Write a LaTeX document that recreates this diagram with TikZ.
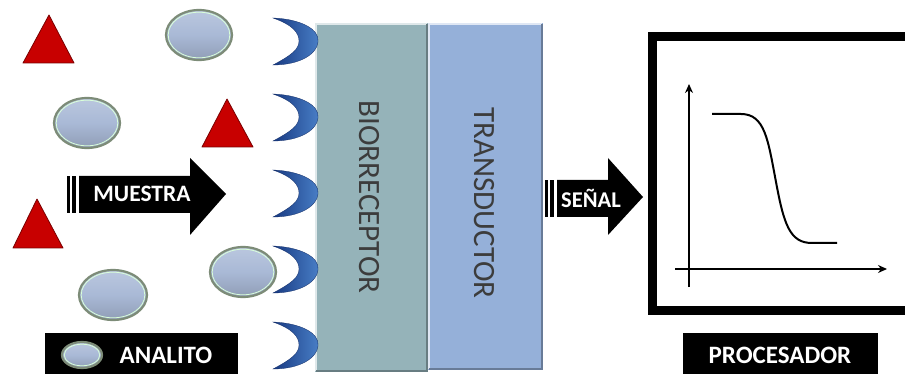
\documentclass[tikz,border=0pt]{standalone}
\usepackage{fontspec}
\setmainfont{Carlito}
\usetikzlibrary{arrows.meta}
\definecolor{tri}{HTML}{C80000}
\definecolor{tridark}{HTML}{7A0000}
\definecolor{ellfill}{HTML}{A9B9D6}
\definecolor{ellrim}{HTML}{7D8C78}
\definecolor{crdark}{HTML}{183A82}
\definecolor{crlight}{HTML}{4A80C8}
\definecolor{biofill}{HTML}{95B3B9}
\definecolor{transfill}{HTML}{95B0D9}
\definecolor{boxtext}{HTML}{3C3C3C}
\tikzset{
  x=1pt, y=-1pt,
  analyte/.style={top color=ellfill!80!white, bottom color=ellfill!85!black, middle color=ellfill, draw=ellrim, line width=2.2pt},
  analyterim/.style={draw=white!85!green, line width=0.8pt},
  antigen/.style={fill=tri, draw=tridark, line width=0.8pt, line join=round},
  receptor/.style={left color=crdark, right color=crlight, draw=crdark!80!black, line width=0.3pt},
  blackarrow/.style={fill=black},
  whitelabel/.style={text=white, font=\bfseries, inner sep=0pt},
  boxlabel/.style={text=boxtext, rotate=-90, inner sep=0pt},
  axis/.style={line width=1.8pt, -{Stealth[length=9pt,width=8pt]}},
}
\newcommand{\crescent}[1]{%
  \path[receptor] (273,#1-23) .. controls (300,#1-22) and (320,#1-12) .. (318,#1+1)
    .. controls (317,#1+13) and (300,#1+24) .. (273,#1+24)
    .. controls (292,#1+14) and (299,#1+8) .. (299,#1)
    .. controls (299,#1-8) and (293,#1-16) .. cycle;}
\newcommand{\analyteshape}[4]{%
  \path[analyte] (#1,#2) ellipse [x radius=#3, y radius=#4];
  \path[analyterim] (#1,#2) ellipse [x radius=#3-2.2, y radius=#4-2.2];}
\begin{document}
\begin{tikzpicture}
\clip (0,0) rectangle (905,374);
\fill[white] (0,0) rectangle (905,374);

% boxes
\fill[biofill] (315,23) rectangle (428,372);
\draw[white!70!biofill, line width=1.2pt] (316,371) -- (316,24) -- (427,24);
\draw[biofill!70!black, line width=1.2pt] (427,24) -- (427,371) -- (316,371);
\fill[transfill] (428,23) rectangle (543,370);
\draw[white!70!transfill, line width=1.2pt] (429,369) -- (429,24) -- (542,24);
\draw[transfill!70!black, line width=1.2pt] (542,24) -- (542,369) -- (429,369);
\node[boxlabel, font=\fontsize{31}{31}\selectfont] (bio) at (369,197) {BIORRECEPTOR};
\node[boxlabel, font=\fontsize{31}{31}\selectfont] (trans) at (484,203) {TRANSDUCTOR};

% receptors
\crescent{41}
\crescent{117}
\crescent{193}
\crescent{269}
\crescent{345}

% antigens (triangles)
\path[antigen] (49,15) -- (74,63) -- (23,63) -- cycle;
\path[antigen] (227,99) -- (253,147) -- (202,147) -- cycle;
\path[antigen] (37,199) -- (63,248) -- (13,248) -- cycle;

% analytes
\analyteshape{199}{35}{33}{25}
\analyteshape{87}{123}{33}{25}
\analyteshape{243}{272}{33}{25}
\analyteshape{113}{295}{34}{25}

% MUESTRA arrow
\fill[blackarrow] (67,176) rectangle (69.5,213);
\fill[blackarrow] (72,176) rectangle (75.5,213);
\fill[blackarrow] (79,176) -- (190,176) -- (190,158) -- (226,194) -- (190,235) -- (190,213) -- (79,213) -- cycle;
\node[whitelabel, font=\bfseries\fontsize{23.5}{23.5}\selectfont] (muestra) at (142,194) {MUESTRA};

% SENAL arrow
\fill[blackarrow] (545,180) rectangle (547.5,217);
\fill[blackarrow] (550,180) rectangle (553.5,217);
\fill[blackarrow] (557,180) -- (608,180) -- (608,158) -- (643,197) -- (608,235) -- (608,217) -- (557,217) -- cycle;
\node[whitelabel, font=\bfseries\fontsize{22.5}{22.5}\selectfont] (senal) at (591,198) {SEÑAL};

% processor box
\draw[line width=9pt] (652.5,36.5) rectangle (940,310.5);
\coordinate (yaxb) at (689,287);
\coordinate (yaxt) at (689,84);
\coordinate (xaxl) at (675,269);
\coordinate (xaxr) at (887,269);
\draw[axis] (yaxb) -- (yaxt);
\draw[axis] (xaxl) -- (xaxr);
\draw[line width=2pt] (712,114) -- (741,114) .. controls (765,114) and (768,140) .. (776,182)
  .. controls (784,225) and (790,243) .. (812,243) -- (837,243);

% legend ANALITO
\fill[black] (45,333) rectangle (238,380);
\analyteshape{82}{355}{20}{13}
\node[whitelabel, font=\bfseries\fontsize{25}{25}\selectfont] (analito) at (166,355) {ANALITO};

% PROCESADOR label
\fill[black] (683,333) rectangle (878,380);
\node[whitelabel, font=\bfseries\fontsize{25}{25}\selectfont] (procesador) at (780,355) {PROCESADOR};
\end{tikzpicture}
\end{document}
